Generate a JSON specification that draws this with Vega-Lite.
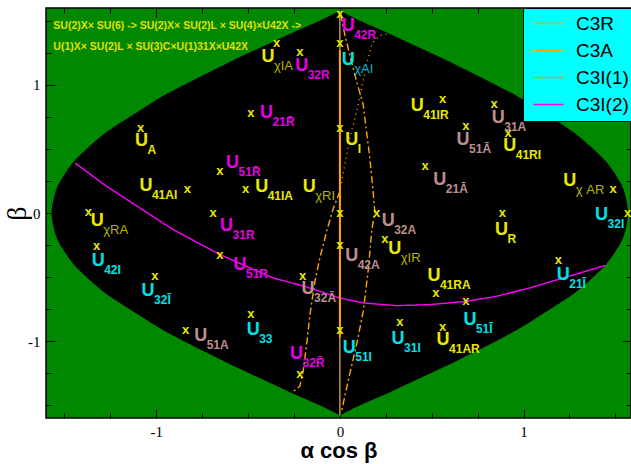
{
  "$schema": "https://vega.github.io/schema/vega-lite/v6.json",
  "width": 585,
  "height": 410,
  "autosize": {"type": "none"},
  "padding": {"left": 46, "top": 8, "right": 0, "bottom": 46},
  "background": "white",
  "config": {
    "view": {"fill": "#008800", "stroke": "black", "strokeWidth": 1.5},
    "axis": {"grid": false, "domain": false, "tickColor": "black", "tickWidth": 1, "zindex": 1}
  },
  "datasets": {
    "lens": [
      {"b": 1.58, "xl": 0, "xr": 0},
      {"b": 1.5, "xl": -0.11, "xr": 0.11},
      {"b": 1.4, "xl": -0.27, "xr": 0.27},
      {"b": 1.3, "xl": -0.42, "xr": 0.42},
      {"b": 1.2, "xl": -0.57, "xr": 0.57},
      {"b": 1.1, "xl": -0.71, "xr": 0.71},
      {"b": 1.0, "xl": -0.85, "xr": 0.85},
      {"b": 0.9, "xl": -0.98, "xr": 0.98},
      {"b": 0.8, "xl": -1.09, "xr": 1.09},
      {"b": 0.7, "xl": -1.2, "xr": 1.2},
      {"b": 0.6, "xl": -1.3, "xr": 1.3},
      {"b": 0.5, "xl": -1.38, "xr": 1.38},
      {"b": 0.4, "xl": -1.45, "xr": 1.45},
      {"b": 0.3, "xl": -1.5, "xr": 1.5},
      {"b": 0.2, "xl": -1.54, "xr": 1.54},
      {"b": 0.1, "xl": -1.56, "xr": 1.56},
      {"b": 0.0, "xl": -1.57, "xr": 1.57},
      {"b": -0.1, "xl": -1.56, "xr": 1.56},
      {"b": -0.2, "xl": -1.54, "xr": 1.54},
      {"b": -0.3, "xl": -1.5, "xr": 1.5},
      {"b": -0.4, "xl": -1.45, "xr": 1.45},
      {"b": -0.5, "xl": -1.38, "xr": 1.38},
      {"b": -0.6, "xl": -1.3, "xr": 1.3},
      {"b": -0.7, "xl": -1.2, "xr": 1.2},
      {"b": -0.8, "xl": -1.09, "xr": 1.09},
      {"b": -0.9, "xl": -0.98, "xr": 0.98},
      {"b": -1.0, "xl": -0.85, "xr": 0.85},
      {"b": -1.1, "xl": -0.71, "xr": 0.71},
      {"b": -1.2, "xl": -0.57, "xr": 0.57},
      {"b": -1.3, "xl": -0.42, "xr": 0.42},
      {"b": -1.4, "xl": -0.27, "xr": 0.27},
      {"b": -1.5, "xl": -0.11, "xr": 0.11},
      {"b": -1.58, "xl": 0, "xr": 0}
    ],
    "curves": [
      {"s": "C3R", "br": 1, "i": 1, "x": 0.005, "b": 1.55},
      {"s": "C3R", "br": 1, "i": 2, "x": 0.027, "b": 1.39},
      {"s": "C3R", "br": 1, "i": 3, "x": 0.06, "b": 1.2},
      {"s": "C3R", "br": 1, "i": 4, "x": 0.091, "b": 1.027},
      {"s": "C3R", "br": 1, "i": 5, "x": 0.127, "b": 0.845},
      {"s": "C3R", "br": 1, "i": 6, "x": 0.145, "b": 0.637},
      {"s": "C3R", "br": 1, "i": 7, "x": 0.163, "b": 0.429},
      {"s": "C3R", "br": 1, "i": 8, "x": 0.181, "b": 0.168},
      {"s": "C3R", "br": 1, "i": 9, "x": 0.19, "b": 0.012},
      {"s": "C3R", "br": 1, "i": 10, "x": 0.173, "b": -0.144},
      {"s": "C3R", "br": 1, "i": 11, "x": 0.154, "b": -0.45},
      {"s": "C3R", "br": 1, "i": 12, "x": 0.127, "b": -0.768},
      {"s": "C3R", "br": 1, "i": 13, "x": 0.091, "b": -1.027},
      {"s": "C3R", "br": 1, "i": 14, "x": 0.045, "b": -1.31},
      {"s": "C3R", "br": 1, "i": 15, "x": 0.009, "b": -1.548},
      {"s": "C3R", "br": 2, "i": 1, "x": 0.0, "b": 0.168},
      {"s": "C3R", "br": 2, "i": 2, "x": -0.035, "b": 0.04},
      {"s": "C3R", "br": 2, "i": 3, "x": -0.072, "b": -0.144},
      {"s": "C3R", "br": 2, "i": 4, "x": -0.109, "b": -0.351},
      {"s": "C3R", "br": 2, "i": 5, "x": -0.136, "b": -0.534},
      {"s": "C3R", "br": 2, "i": 6, "x": -0.163, "b": -0.793},
      {"s": "C3R", "br": 2, "i": 7, "x": -0.181, "b": -1.027},
      {"s": "C3R", "br": 2, "i": 8, "x": -0.2, "b": -1.236},
      {"s": "C3R", "br": 2, "i": 9, "x": -0.218, "b": -1.352},
      {"s": "C3R", "br": 2, "i": 10, "x": -0.263, "b": -1.404},
      {"s": "C3A", "br": 3, "i": 1, "x": 0.254, "b": 1.396},
      {"s": "C3A", "br": 3, "i": 2, "x": 0.218, "b": 1.385},
      {"s": "C3A", "br": 3, "i": 3, "x": 0.176, "b": 1.326},
      {"s": "C3A", "br": 3, "i": 4, "x": 0.145, "b": 1.157},
      {"s": "C3A", "br": 3, "i": 5, "x": 0.118, "b": 0.975},
      {"s": "C3A", "br": 3, "i": 6, "x": 0.091, "b": 0.793},
      {"s": "C3A", "br": 3, "i": 7, "x": 0.054, "b": 0.585},
      {"s": "C3A", "br": 3, "i": 8, "x": 0.027, "b": 0.377},
      {"s": "C3A", "br": 3, "i": 9, "x": 0.0, "b": 0.168},
      {"s": "C3I(1)", "br": 4, "i": 1, "x": 0, "b": 1.58},
      {"s": "C3I(1)", "br": 4, "i": 2, "x": 0, "b": -1.58},
      {"s": "C3I(2)", "br": 5, "i": 1, "x": -1.442, "b": 0.39},
      {"s": "C3I(2)", "br": 5, "i": 2, "x": -1.27, "b": 0.208},
      {"s": "C3I(2)", "br": 5, "i": 3, "x": -1.089, "b": 0.039},
      {"s": "C3I(2)", "br": 5, "i": 4, "x": -0.907, "b": -0.13},
      {"s": "C3I(2)", "br": 5, "i": 5, "x": -0.653, "b": -0.325},
      {"s": "C3I(2)", "br": 5, "i": 6, "x": -0.363, "b": -0.507},
      {"s": "C3I(2)", "br": 5, "i": 7, "x": -0.181, "b": -0.577},
      {"s": "C3I(2)", "br": 5, "i": 8, "x": 0.0, "b": -0.663},
      {"s": "C3I(2)", "br": 5, "i": 9, "x": 0.127, "b": -0.702},
      {"s": "C3I(2)", "br": 5, "i": 10, "x": 0.309, "b": -0.723},
      {"s": "C3I(2)", "br": 5, "i": 11, "x": 0.49, "b": -0.715},
      {"s": "C3I(2)", "br": 5, "i": 12, "x": 0.686, "b": -0.69},
      {"s": "C3I(2)", "br": 5, "i": 13, "x": 0.853, "b": -0.65},
      {"s": "C3I(2)", "br": 5, "i": 14, "x": 1.034, "b": -0.585},
      {"s": "C3I(2)", "br": 5, "i": 15, "x": 1.216, "b": -0.507},
      {"s": "C3I(2)", "br": 5, "i": 16, "x": 1.443, "b": -0.41}
    ],
    "seg": [
      {"x": 0, "b": 1.27},
      {"x": 0, "b": -0.97}
    ],
    "markers": [
      {"x": 0.0, "b": 1.554},
      {"x": -0.345, "b": 1.326},
      {"x": -0.218, "b": 1.253},
      {"x": -0.484, "b": 0.78},
      {"x": -1.085, "b": 0.663},
      {"x": -0.653, "b": 0.324},
      {"x": -0.831, "b": 0.19},
      {"x": -0.513, "b": 0.19},
      {"x": 0.0, "b": 0.0},
      {"x": -1.37, "b": 0.008},
      {"x": -1.324, "b": -0.255},
      {"x": -1.007, "b": -0.495},
      {"x": -0.69, "b": 0.0},
      {"x": -0.653, "b": -0.325},
      {"x": -0.203, "b": -0.495},
      {"x": -0.484, "b": -0.788},
      {"x": -0.84, "b": -0.916},
      {"x": -0.218, "b": -1.254},
      {"x": 0.0, "b": 1.326},
      {"x": 0.0, "b": 0.663},
      {"x": 0.0, "b": -0.253},
      {"x": 0.0, "b": -0.91},
      {"x": 0.559, "b": 0.889},
      {"x": 0.84, "b": 0.85},
      {"x": 0.686, "b": 0.681},
      {"x": 0.916, "b": 0.624},
      {"x": 0.464, "b": 0.363},
      {"x": 1.488, "b": 0.19},
      {"x": 1.566, "b": 0.0},
      {"x": 0.884, "b": 0.0},
      {"x": 1.19, "b": -0.364},
      {"x": 0.523, "b": -0.624},
      {"x": 0.686, "b": -0.69},
      {"x": 0.327, "b": -0.853},
      {"x": 0.559, "b": -0.892},
      {"x": 0.2, "b": 0.0},
      {"x": 0.245, "b": -0.2}
    ],
    "labels": [
      {"x": 0.045, "y": 1.456, "g": "m", "s": "42R", "k": "n"},
      {"x": 0.045, "y": 1.196, "g": "c", "s": "χAI", "k": "chi"},
      {"x": -0.392, "y": 1.219, "g": "y", "s": "χIA", "k": "chi"},
      {"x": -0.208, "y": 1.144, "g": "m", "s": "32R", "k": "n"},
      {"x": -0.399, "y": 0.78, "g": "m", "s": "21R\u0304", "k": "n"},
      {"x": -1.08, "y": 0.559, "g": "y", "s": "A", "k": "n"},
      {"x": -0.584, "y": 0.39, "g": "m", "s": "51R\u0304", "k": "n"},
      {"x": -1.056, "y": 0.208, "g": "y", "s": "41AI", "k": "n"},
      {"x": -0.426, "y": 0.203, "g": "y", "s": "41IA", "k": "n"},
      {"x": -0.167, "y": 0.203, "g": "y", "s": "χRI", "k": "chi"},
      {"x": -1.321, "y": -0.066, "g": "y", "s": "χRA", "k": "chi"},
      {"x": -1.316, "y": -0.378, "g": "c", "s": "42I", "k": "n"},
      {"x": -1.044, "y": -0.612, "g": "c", "s": "32I\u0304", "k": "n"},
      {"x": -0.617, "y": -0.105, "g": "m", "s": "31R", "k": "n"},
      {"x": -0.544, "y": -0.403, "g": "m", "s": "51R", "k": "n"},
      {"x": -0.173, "y": -0.593, "g": "b", "s": "32A\u0304", "k": "n"},
      {"x": -0.472, "y": -0.91, "g": "c", "s": "33", "k": "n"},
      {"x": -0.758, "y": -0.963, "g": "b", "s": "51A", "k": "n"},
      {"x": -0.236, "y": -1.098, "g": "m", "s": "32R\u0304", "k": "n"},
      {"x": 0.064, "y": 0.572, "g": "y", "s": "I", "k": "n"},
      {"x": 0.064, "y": -0.339, "g": "b", "s": "42A", "k": "n"},
      {"x": 0.051, "y": -1.053, "g": "c", "s": "51I", "k": "n"},
      {"x": 0.421, "y": 0.837, "g": "y", "s": "41IR", "k": "n"},
      {"x": 0.862, "y": 0.741, "g": "b", "s": "31A", "k": "n"},
      {"x": 0.671, "y": 0.572, "g": "b", "s": "51A\u0304", "k": "n"},
      {"x": 0.925, "y": 0.52, "g": "y", "s": "41RI", "k": "n"},
      {"x": 0.544, "y": 0.26, "g": "b", "s": "21A\u0304", "k": "n"},
      {"x": 1.252, "y": 0.246, "g": "y", "s": "χ AR", "k": "chi"},
      {"x": 1.425, "y": -0.013, "g": "c", "s": "32I", "k": "n"},
      {"x": 0.88, "y": -0.13, "g": "y", "s": "R", "k": "n"},
      {"x": 1.216, "y": -0.481, "g": "c", "s": "21I\u0304", "k": "n"},
      {"x": 0.512, "y": -0.489, "g": "y", "s": "41RA", "k": "n"},
      {"x": 0.708, "y": -0.832, "g": "c", "s": "51I\u0304", "k": "n"},
      {"x": 0.317, "y": -0.983, "g": "c", "s": "31I", "k": "n"},
      {"x": 0.562, "y": -0.988, "g": "y", "s": "41AR", "k": "n"},
      {"x": 0.263, "y": -0.066, "g": "b", "s": "32A", "k": "n"},
      {"x": 0.299, "y": -0.278, "g": "y", "s": "χIR", "k": "chi"}
    ],
    "notes": [
      {"x": -1.56, "y": 1.456, "t": "SU(2)X× SU(6) -> SU(2)X×  SU(2)L × SU(4)×U42X ->"},
      {"x": -1.56, "y": 1.297, "t": "U(1)X×  SU(2)L × SU(3)C×U(1)31X×U42X"}
    ]
  },
  "layer": [
    {
      "data": {"name": "lens"},
      "mark": {"type": "area", "orient": "horizontal", "color": "black", "interpolate": "natural"},
      "encoding": {
        "y": {"field": "b", "type": "quantitative", "scale": {"domain": [-1.6, 1.6], "nice": false, "zero": false},
          "axis": {"orient": "left", "values": [-1, 0, 1], "tickSize": -9, "labelPadding": 15, "labelExpr": "'' + datum.value",
            "labelFont": "Liberation Serif", "labelFontSize": 15, "labelColor": "black",
            "title": "β", "titleFont": "Liberation Serif", "titleFontSize": 28, "titleFontWeight": "normal", "titleColor": "black", "titlePadding": -4}},
        "x": {"field": "xl", "type": "quantitative", "scale": {"domain": [-1.6, 1.585], "nice": false, "zero": false},
          "axis": {"orient": "bottom", "values": [-1, 0, 1], "tickSize": -9, "labelPadding": 15, "labelExpr": "'' + datum.value",
            "labelFont": "Liberation Serif", "labelFontSize": 15, "labelColor": "black",
            "title": "α cos β", "titleFont": "Liberation Sans", "titleFontSize": 22, "titleFontWeight": "bold", "titleColor": "black", "titlePadding": 1}},
        "x2": {"field": "xr"}
      }
    },
    {
      "data": {"name": "curves"},
      "mark": {"type": "line", "strokeWidth": 1.4},
      "encoding": {
        "x": {"field": "x", "type": "quantitative", "scale": {"domain": [-1.6, 1.585], "nice": false, "zero": false},
          "axis": {"orient": "bottom", "values": [-1.5, -1.25, -0.75, -0.5, -0.25, 0.25, 0.5, 0.75, 1.25, 1.5], "tickSize": -5, "labels": false, "title": null}},
        "y": {"field": "b", "type": "quantitative", "scale": {"domain": [-1.6, 1.6], "nice": false, "zero": false},
          "axis": {"orient": "left", "values": [-1.5, -1.25, -0.75, -0.5, -0.25, 0.25, 0.5, 0.75, 1.25, 1.5], "tickSize": -5, "labels": false, "title": null}},
        "detail": {"field": "br"},
        "order": {"field": "i", "type": "quantitative"},
        "color": {"field": "s", "type": "nominal",
          "scale": {"domain": ["C3R", "C3A", "C3I(1)", "C3I(2)"], "range": ["#ffa500", "#ffa500", "#d0a040", "#ff00ff"]},
          "legend": {"title": null, "orient": "none", "legendX": 477, "legendY": 0, "fillColor": "#00ffff", "strokeColor": "black",
            "padding": 6, "labelFont": "Liberation Sans", "labelFontSize": 19, "labelColor": "black",
            "symbolType": "M-1,0H5", "symbolSize": 100, "symbolStrokeWidth": 1.5, "rowPadding": 7, "labelOffset": 28}},
        "strokeDash": {"field": "s", "type": "nominal",
          "scale": {"domain": ["C3R", "C3A", "C3I(1)", "C3I(2)"], "range": [[7, 3, 2, 3], [1, 4], [1, 0], [1, 0]]},
          "legend": {"title": null, "orient": "none", "legendX": 477, "legendY": 0, "fillColor": "#00ffff", "strokeColor": "black",
            "padding": 6, "labelFont": "Liberation Sans", "labelFontSize": 19, "labelColor": "black",
            "symbolType": "M-1,0H5", "symbolSize": 100, "symbolStrokeWidth": 1.5, "rowPadding": 7, "labelOffset": 28}}
      }
    },
    {
      "data": {"name": "seg"},
      "mark": {"type": "line", "color": "#ffa500", "strokeWidth": 2},
      "encoding": {
        "x": {"field": "x", "type": "quantitative", "scale": {"domain": [-1.6, 1.585], "nice": false, "zero": false},
          "axis": {"orient": "top", "values": [-1, 0, 1], "tickSize": -9, "labels": false, "title": null}},
        "y": {"field": "b", "type": "quantitative", "scale": {"domain": [-1.6, 1.6], "nice": false, "zero": false},
          "axis": {"orient": "right", "values": [-1, 0, 1], "tickSize": -9, "labels": false, "title": null}}
      }
    },
    {
      "data": {"name": "markers"},
      "mark": {"type": "text", "text": "x", "font": "Liberation Sans", "fontWeight": "bold", "fontSize": 13, "color": "#e8e800", "align": "center", "baseline": "middle"},
      "encoding": {
        "x": {"field": "x", "type": "quantitative", "scale": {"domain": [-1.6, 1.585], "nice": false, "zero": false},
          "axis": {"orient": "top", "values": [-1.5, -1.25, -0.75, -0.5, -0.25, 0.25, 0.5, 0.75, 1.25, 1.5], "tickSize": -5, "labels": false, "title": null}},
        "y": {"field": "b", "type": "quantitative", "scale": {"domain": [-1.6, 1.6], "nice": false, "zero": false},
          "axis": {"orient": "right", "values": [-1.5, -1.25, -0.75, -0.5, -0.25, 0.25, 0.5, 0.75, 1.25, 1.5], "tickSize": -5, "labels": false, "title": null}}
      }
    },
    {
      "data": {"name": "labels"},
      "mark": {"type": "text", "text": "U", "font": "Liberation Sans", "fontWeight": "bold", "fontSize": 18, "align": "center", "baseline": "middle"},
      "encoding": {
        "x": {"field": "x", "type": "quantitative", "axis": null},
        "y": {"field": "y", "type": "quantitative", "axis": null},
        "color": {"field": "g", "type": "nominal", "legend": null,
          "scale": {"domain": ["y", "m", "c", "b"], "range": ["#e8e800", "#e600e6", "#00e0e6", "#bc8f8f"]}}
      }
    },
    {
      "data": {"name": "labels"},
      "transform": [{"filter": "datum.k == 'n'"}],
      "mark": {"type": "text", "font": "Liberation Sans", "fontWeight": "bold", "fontSize": 12, "align": "left", "baseline": "middle", "dx": 6, "dy": 9},
      "encoding": {
        "x": {"field": "x", "type": "quantitative", "axis": null},
        "y": {"field": "y", "type": "quantitative", "axis": null},
        "text": {"field": "s"},
        "color": {"field": "g", "type": "nominal", "legend": null,
          "scale": {"domain": ["y", "m", "c", "b"], "range": ["#e8e800", "#e600e6", "#00e0e6", "#bc8f8f"]}}
      }
    },
    {
      "data": {"name": "labels"},
      "transform": [{"filter": "datum.k == 'chi'"}],
      "mark": {"type": "text", "font": "Liberation Sans", "fontWeight": "normal", "fontSize": 13, "align": "left", "baseline": "middle", "dx": 6, "dy": 9},
      "encoding": {
        "x": {"field": "x", "type": "quantitative", "axis": null},
        "y": {"field": "y", "type": "quantitative", "axis": null},
        "text": {"field": "s"},
        "color": {"field": "g", "type": "nominal", "legend": null,
          "scale": {"domain": ["y", "c"], "range": ["#b4b400", "#00b4c8"]}}
      }
    },
    {
      "data": {"name": "notes"},
      "mark": {"type": "text", "font": "Liberation Sans", "fontWeight": "bold", "fontSize": 10.5, "align": "left", "baseline": "middle", "color": "#e0e000"},
      "encoding": {
        "x": {"field": "x", "type": "quantitative", "axis": null},
        "y": {"field": "y", "type": "quantitative", "axis": null},
        "text": {"field": "t"}
      }
    }
  ],
  "resolve": {"scale": {"color": "independent"}, "axis": {"x": "independent", "y": "independent"}}
}
